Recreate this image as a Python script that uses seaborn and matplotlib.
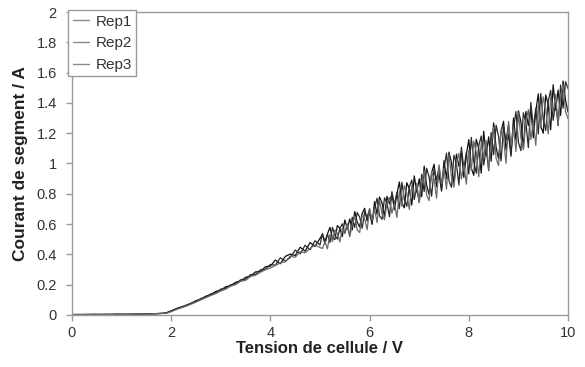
import matplotlib
matplotlib.use("Agg")
import matplotlib.pyplot as plt
import seaborn as sns
import pandas as pd

# Cell voltage (V): 0.1 V steps up to 5 V, then 0.05 V steps
tension = [0.0, 0.1, 0.2, 0.3, 0.4, 0.5, 0.6, 0.7, 0.8, 0.9,
           1.0, 1.1, 1.2, 1.3, 1.4, 1.5, 1.6, 1.7, 1.8, 1.9,
           2.0, 2.1, 2.2, 2.3, 2.4, 2.5, 2.6, 2.7, 2.8, 2.9,
           3.0, 3.1, 3.2, 3.3, 3.4, 3.5, 3.6, 3.7, 3.8, 3.9,
           4.0, 4.1, 4.2, 4.3, 4.4, 4.5, 4.6, 4.7, 4.8, 4.9,
           5.0,
           5.05, 5.10, 5.15, 5.20, 5.25, 5.30, 5.35, 5.40, 5.45, 5.50,
           5.55, 5.60, 5.65, 5.70, 5.75, 5.80, 5.85, 5.90, 5.95, 6.00,
           6.05, 6.10, 6.15, 6.20, 6.25, 6.30, 6.35, 6.40, 6.45, 6.50,
           6.55, 6.60, 6.65, 6.70, 6.75, 6.80, 6.85, 6.90, 6.95, 7.00,
           7.05, 7.10, 7.15, 7.20, 7.25, 7.30, 7.35, 7.40, 7.45, 7.50,
           7.55, 7.60, 7.65, 7.70, 7.75, 7.80, 7.85, 7.90, 7.95, 8.00,
           8.05, 8.10, 8.15, 8.20, 8.25, 8.30, 8.35, 8.40, 8.45, 8.50,
           8.55, 8.60, 8.65, 8.70, 8.75, 8.80, 8.85, 8.90, 8.95, 9.00,
           9.05, 9.10, 9.15, 9.20, 9.25, 9.30, 9.35, 9.40, 9.45, 9.50,
           9.55, 9.60, 9.65, 9.70, 9.75, 9.80, 9.85, 9.90, 9.95, 10.00]

rep1 = [0.002, 0.003, 0.002, 0.003, 0.004, 0.003, 0.002, 0.004, 0.003, 0.005,
        0.004, 0.003, 0.005, 0.006, 0.004, 0.007, 0.006, 0.008, 0.009, 0.014,
        0.027, 0.041, 0.052, 0.064, 0.076, 0.094, 0.104, 0.124, 0.133, 0.155,
        0.163, 0.186, 0.193, 0.216, 0.222, 0.248, 0.255, 0.284, 0.286, 0.318,
        0.322, 0.362, 0.338, 0.386, 0.402, 0.392, 0.447, 0.421, 0.478, 0.452,
        0.506,
        0.532, 0.468, 0.534, 0.578, 0.509, 0.498, 0.590, 0.571, 0.518, 0.627,
        0.570, 0.634, 0.561, 0.683, 0.612, 0.581, 0.670, 0.704, 0.620, 0.677,
        0.598, 0.748, 0.665, 0.779, 0.740, 0.651, 0.783, 0.732, 0.800, 0.694,
        0.799, 0.878, 0.739, 0.707, 0.873, 0.835, 0.726, 0.918, 0.811, 0.899,
        0.781, 0.983, 0.856, 0.795, 0.940, 0.995, 0.846, 0.931, 0.818, 1.019,
        0.899, 1.075, 1.006, 0.860, 1.062, 0.982, 1.080, 0.908, 1.058, 1.158,
        0.969, 0.922, 1.160, 1.099, 0.936, 1.213, 1.052, 1.176, 1.015, 1.268,
        1.107, 1.031, 1.212, 1.279, 1.088, 1.194, 1.048, 1.300, 1.153, 1.348,
        1.275, 1.105, 1.343, 1.250, 1.368, 1.170, 1.345, 1.460, 1.248, 1.200,
        1.453, 1.390, 1.223, 1.520, 1.353, 1.485, 1.318, 1.545, 1.418, 1.340]

rep2 = [0.001, 0.002, 0.003, 0.002, 0.002, 0.004, 0.003, 0.003, 0.004, 0.004,
        0.005, 0.004, 0.004, 0.005, 0.006, 0.005, 0.007, 0.007, 0.010, 0.012,
        0.024, 0.038, 0.051, 0.059, 0.077, 0.087, 0.108, 0.117, 0.139, 0.146,
        0.170, 0.176, 0.199, 0.205, 0.232, 0.236, 0.266, 0.268, 0.298, 0.301,
        0.333, 0.328, 0.377, 0.356, 0.378, 0.428, 0.403, 0.460, 0.430, 0.490,
        0.462,
        0.537, 0.484, 0.534, 0.478, 0.578, 0.525, 0.501, 0.571, 0.602, 0.539,
        0.587, 0.523, 0.645, 0.578, 0.676, 0.645, 0.572, 0.681, 0.643, 0.701,
        0.604, 0.705, 0.771, 0.654, 0.631, 0.773, 0.740, 0.648, 0.814, 0.725,
        0.809, 0.702, 0.876, 0.766, 0.717, 0.844, 0.891, 0.762, 0.840, 0.743,
        0.929, 0.815, 0.969, 0.909, 0.784, 0.963, 0.892, 0.978, 0.830, 0.964,
        1.068, 0.886, 0.843, 1.054, 1.001, 0.858, 1.108, 0.962, 1.074, 0.931,
        1.173, 1.012, 0.936, 1.117, 1.182, 0.990, 1.099, 0.953, 1.205, 1.058,
        1.253, 1.178, 1.017, 1.241, 1.149, 1.256, 1.066, 1.233, 1.343, 1.139,
        1.085, 1.335, 1.273, 1.105, 1.403, 1.235, 1.365, 1.195, 1.463, 1.295,
        1.218, 1.410, 1.483, 1.285, 1.403, 1.250, 1.518, 1.365, 1.540, 1.495]

rep3 = [0.003, 0.002, 0.002, 0.003, 0.003, 0.002, 0.004, 0.003, 0.003, 0.004,
        0.003, 0.005, 0.004, 0.006, 0.005, 0.006, 0.006, 0.009, 0.011, 0.010,
        0.021, 0.035, 0.046, 0.058, 0.070, 0.085, 0.099, 0.114, 0.128, 0.141,
        0.158, 0.170, 0.190, 0.200, 0.222, 0.228, 0.254, 0.262, 0.282, 0.298,
        0.310, 0.326, 0.344, 0.350, 0.389, 0.380, 0.418, 0.410, 0.440, 0.462,
        0.445,
        0.439, 0.485, 0.436, 0.532, 0.484, 0.562, 0.539, 0.483, 0.572, 0.545,
        0.601, 0.516, 0.598, 0.653, 0.561, 0.544, 0.660, 0.634, 0.563, 0.701,
        0.625, 0.701, 0.610, 0.758, 0.669, 0.629, 0.736, 0.776, 0.671, 0.738,
        0.643, 0.818, 0.719, 0.853, 0.804, 0.697, 0.852, 0.790, 0.869, 0.742,
        0.864, 0.953, 0.792, 0.754, 0.944, 0.898, 0.771, 0.991, 0.866, 0.966,
        0.831, 1.058, 0.913, 0.843, 1.006, 1.067, 0.897, 0.993, 0.863, 1.089,
        0.953, 1.148, 1.073, 0.912, 1.134, 1.041, 1.151, 0.961, 1.128, 1.238,
        1.034, 0.987, 1.225, 1.164, 1.001, 1.278, 1.117, 1.241, 1.080, 1.333,
        1.170, 1.090, 1.283, 1.355, 1.158, 1.275, 1.120, 1.385, 1.233, 1.440,
        1.363, 1.195, 1.433, 1.340, 1.458, 1.260, 1.438, 1.520, 1.343, 1.295]

series_names = ["Rep1", "Rep2", "Rep3"]
x_ticks = [0, 2, 4, 6, 8, 10]
y_ticks = [0, 0.2, 0.4, 0.6, 0.8, 1, 1.2, 1.4, 1.6, 1.8, 2]
y_tick_labels = ["0", "0.2", "0.4", "0.6", "0.8", "1", "1.2", "1.4", "1.6", "1.8", "2"]

frames = []
for name, vals in zip(series_names, [rep1, rep2, rep3]):
    frames.append(pd.DataFrame({"V": tension, "I": vals, "Rep": name}))
df = pd.concat(frames, ignore_index=True)

sns.set_style("white")
plt.rcParams["font.family"] = ["Liberation Sans", "DejaVu Sans"]

fig = plt.figure(figsize=(5.85, 3.67), dpi=100)
ax = fig.add_axes([0.123, 0.142, 0.848, 0.825])

palette = {"Rep1": "#111111", "Rep2": "#2a2a2a", "Rep3": "#6a6a6a"}
sns.lineplot(data=df, x="V", y="I", hue="Rep", palette=palette, ax=ax,
             linewidth=0.9, legend=True, estimator=None, sort=False)

ax.set_xlim(0, 10)
ax.set_ylim(0, 2)
ax.set_xticks(x_ticks)
ax.set_xticklabels([str(t) for t in x_ticks])
ax.set_yticks(y_ticks)
ax.set_yticklabels(y_tick_labels)

for s in ax.spines.values():
    s.set_color("#9a9a9a")
    s.set_linewidth(1.0)
ax.tick_params(axis="both", which="both", direction="out", length=4,
               width=1.0, color="#9a9a9a", labelsize=10.5, labelcolor="#333333",
               bottom=True, left=True)
ax.tick_params(axis="y", pad=7)
ax.tick_params(axis="x", pad=4)

ax.set_xlabel("Tension de cellule / V", fontsize=12, fontweight="bold",
              color="#222222", labelpad=1)
ax.set_ylabel("Courant de segment / A", fontsize=12.5, fontweight="bold",
              color="#222222", labelpad=6)

handles, labels = ax.get_legend_handles_labels()
for h in handles:
    h.set_color("#8a8a8a")
    h.set_linewidth(1.0)
leg = ax.legend(handles, labels, loc="upper left",
                bbox_to_anchor=(68 / 585, 1 - 10 / 367),
                bbox_transform=fig.transFigure, frameon=True, fancybox=False,
                fontsize=11, handlelength=1.1, handletextpad=0.4,
                labelspacing=0.5, borderpad=0.3, borderaxespad=0.0)
leg.get_frame().set_edgecolor("#9a9a9a")
leg.get_frame().set_linewidth(1.0)
leg.get_frame().set_alpha(1.0)
for t in leg.get_texts():
    t.set_color("#333333")

fig.savefig("out.png", dpi=100)
